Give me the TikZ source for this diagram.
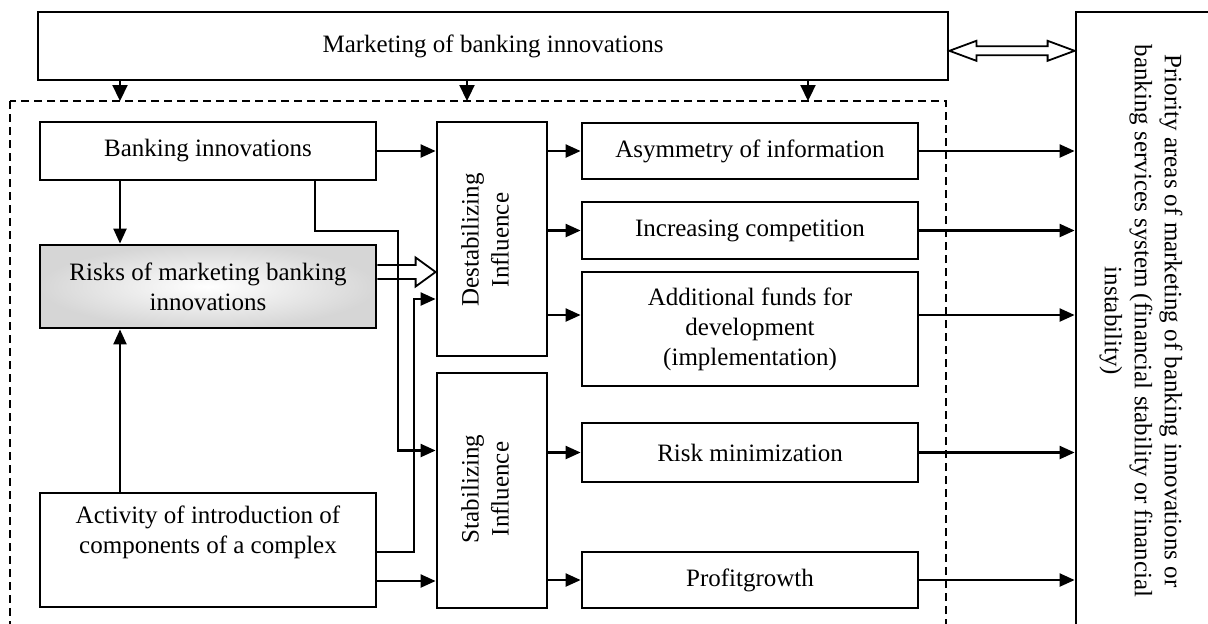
\documentclass[tikz,border=0pt]{standalone}
\usepackage{fontspec}
\setmainfont{Liberation Serif}
\usetikzlibrary{positioning,arrows.meta,calc}

\begin{document}
\begin{tikzpicture}[x=0.5pt, y=-0.5pt, line width=1.1pt, >={Triangle[length=7.5pt,width=6.5pt]},
  every node/.style={font=\fontsize{12.5}{15}\selectfont, align=center, inner sep=0pt},
  box/.style={draw, line width=1.4pt, minimum width=168pt, fill=white},
  hollow/.style={line width=0.9pt, fill=white}]
  \clip (0,0) rectangle (1208,623);

  \node[box, minimum width=455pt, minimum height=34pt] (mkt) at (493,46) {Marketing of banking innovations};
  \node[box, minimum width=80pt, minimum height=320pt] (prio) at (1156,332) {};
  \node[rotate=-90] (priotxt) at (1141,321) {Priority areas of marketing of banking innovations or\\banking services system (financial stability or financial\\instability)};

  \draw[dash pattern=on 4pt off 2.5pt] (10,101) rectangle (946,650);
  \coordinate (d1) at (120,101);
  \coordinate (d2) at (467,101);
  \coordinate (d3) at (808,101);

  \node[box, minimum height=29pt] (bi) at (208,151) {Banking innovations};
  \node[box, inner color=white, outer color=gray!32, minimum height=41.5pt] (risk) at (208,286.5) {Risks of marketing banking\\innovations};
  \node[box, minimum height=57pt] (act) at (208,550) {};
  \node (acttxt) at (208,532) {Activity of introduction of\\components of a complex};

  \node[box, minimum width=55pt, minimum height=117pt] (destab) at (492,239) {};
  \node[rotate=90] (destabtxt) at (485,240) {Destabilizing\\Influence};
  \node[box, minimum width=55pt, minimum height=117.5pt] (stab) at (492,490.5) {};
  \node[rotate=90] (stabtxt) at (485,489) {Stabilizing\\Influence};

  \node[box, minimum height=28pt] (asym) at (750,151) {Asymmetry of information};
  \node[box, minimum height=28.5pt] (comp) at (750,230.5) {Increasing competition};
  \node[box, minimum height=57pt] (funds) at (750,329) {Additional funds for\\development\\(implementation)};
  \node[box, minimum height=29.5pt] (riskmin) at (750,452.5) {Risk minimization};
  \node[box, minimum height=28pt] (profit) at (750,580) {Profitgrowth};
  \coordinate (fundsin) at ([yshift=7pt]funds.west);
  \coordinate (fundsout) at ([yshift=7pt]funds.east);

  \foreach \d in {d1,d2,d3}
    \draw[-{Triangle[length=8pt,width=7.5pt]}] (mkt.south -| \d) -- (\d);

  % hollow block arrows
  \coordinate (ma) at ([yshift=-2.4pt]mkt.east);
  \coordinate (mb) at (ma -| prio.west);
  \draw[hollow] (ma) -- ++(13.5pt,5pt) -- ++(0pt,-2.75pt) -- ($(mb)+(-13.5pt,2.25pt)$) -- ++(0pt,2.75pt)
    -- (mb) -- ++(-13.5pt,-5pt) -- ++(0pt,2.75pt) -- ($(ma)+(13.5pt,-2.25pt)$) -- ++(0pt,-2.75pt) -- cycle;
  \coordinate (ra) at ([yshift=7.25pt]risk.east);
  \coordinate (rb) at (ra -| destab.west);
  \draw[hollow] ($(ra)+(0pt,3.5pt)$) -- ($(rb)+(-10pt,3.5pt)$) -- ++(0pt,3.75pt) -- (rb)
    -- ++(-10pt,-7.25pt) -- ++(0pt,3.75pt) -- ($(ra)+(0pt,-3.5pt)$);

  \draw[->] (bi.east) -- (bi.east -| destab.west);
  \draw[->] ([xshift=-44pt]bi.south) -- ([xshift=-44pt]risk.north);
  \draw[->] ([xshift=-44pt]act.north) -- ([xshift=-44pt]risk.south);
  \draw[->] ([xshift=53.5pt]bi.south) |- (398,231) |- ([yshift=20pt]stab.west);
  \draw[->] ([yshift=-1pt]act.east) -| (414,299) -- ([yshift=-30pt]destab.west);
  \draw[->] ([yshift=-15.5pt]act.east) -- ([yshift=-15.5pt]act.east -| stab.west);

  \foreach \b in {asym,comp}
    \draw[->] (destab.east |- \b) -- (\b.west);
  \draw[->] (destab.east |- fundsin) -- (fundsin);
  \foreach \b in {riskmin,profit}
    \draw[->] (stab.east |- \b) -- (\b.west);
  \foreach \b in {asym,comp,riskmin,profit}
    \draw[->] (\b.east) -- (\b.east -| prio.west);
  \draw[->] (fundsout) -- (fundsout -| prio.west);
\end{tikzpicture}
\end{document}
